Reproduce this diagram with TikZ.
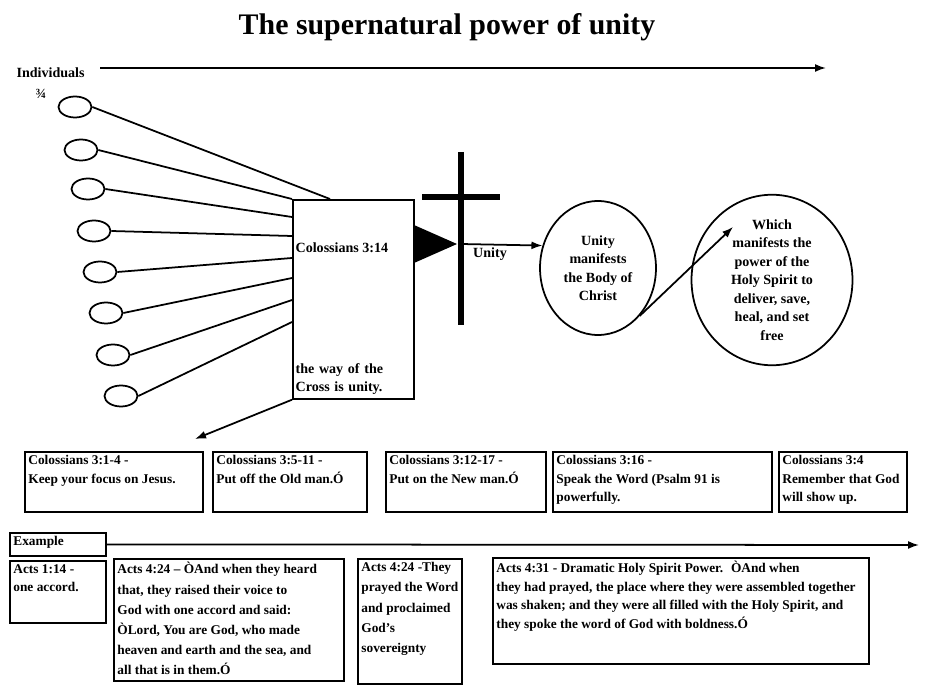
\documentclass[tikz,border=0pt]{standalone}
\usepackage{fontspec}
\setmainfont{Liberation Serif}
\usetikzlibrary{shapes.geometric,arrows.meta}
\newcommand{\versebox}[3]{\parbox[t][#2][t]{#1}{\raggedright #3}}
\begin{document}
\begin{tikzpicture}[x=0.02cm, y=-0.02cm, line width=1pt, >={Latex[length=2.2mm,width=1.6mm]},
        person/.style = {draw, ellipse, minimum width=0.66cm, minimum height=0.42cm, inner sep=0pt},
        verse/.style = {draw, anchor=north west, inner sep=2pt, font=\fontsize{7.6}{10.5}\selectfont\bfseries},
        bubble/.style = {draw, ellipse, align=center, inner sep=0pt, font=\fontsize{8}{10.5}\selectfont\bfseries},
        word/.style = {inner sep=1pt, font=\fontsize{8}{10.5}\selectfont\bfseries}]
    \useasboundingbox (0,0) rectangle (943,692);
    \node[font=\fontsize{17}{20}\selectfont\bfseries] (title) at (447,27) {The supernatural power of unity};
    % individuals
    \node[word, anchor=west] (indiv) at (14,73) {Individuals};
    \node[word] (mark) at (41,94) {¾};
    \coordinate (indstart) at (100,68);
    \coordinate (indend) at (826,68);
    \draw[->] (indstart) -- (indend);
    \node[person] (e1) at (75,107) {};
    \node[person] (e2) at (81,150) {};
    \node[person] (e3) at (88,189) {};
    \node[person] (e4) at (94,231) {};
    \node[person] (e5) at (100,272) {};
    \node[person] (e6) at (106,313) {};
    \node[person] (e7) at (113,355) {};
    \node[person] (e8) at (121,396) {};
    % the box they join
    \node[draw, anchor=north west, minimum width=2.42cm, minimum height=3.98cm] (cbox) at (292,199) {};
    \node[word, anchor=west] (cbtop) at (293,248) {Colossians 3:14};
    \node[word, anchor=north west, text width=2.3cm, align=left] (cbbot) at (293,361) {the way of the Cross is unity.};
    \coordinate (in1) at (330,199);
    \coordinate (in3) at (292,217);
    \coordinate (in4) at (292,236);
    \coordinate (in5) at (292,258);
    \coordinate (in6) at (292,278);
    \coordinate (in7) at (292,300);
    \coordinate (in8) at (292,322);
    \draw (e1.east) -- (in1);
    \draw (e2.east) -- (cbox.north west);
    \draw (e3.east) -- (in3);
    \draw (e4.east) -- (in4);
    \draw (e5.east) -- (in5);
    \draw (e6.east) -- (in6);
    \draw (e7.east) -- (in7);
    \draw (e8.east) -- (in8);
    % cross
    \fill (414,225) -- (457,244) -- (414,263) -- cycle;
    \draw[line width=3pt] (461,152) -- (461,325);
    \draw[line width=3pt] (422,197) -- (500,197);
    \coordinate (apex) at (461,244);
    \node[bubble, minimum width=2.32cm, minimum height=2.68cm] (unity) at (598,268) {Unity\\manifests\\the Body of\\Christ};
    \node[bubble, minimum width=3.22cm, minimum height=3.34cm] (power) at (772,280) {Which\\manifests the\\power of the\\Holy Spirit to\\deliver, save,\\heal, and set\\free};
    \draw[->] (apex) -- (unity.158);
    \node[word] (unitytag) at (490,254) {Unity};
    \coordinate (spirit) at (733,227);
    \draw[->] (unity.south east) -- (spirit);
    \coordinate (down) at (195,439);
    \draw[->] (cbox.south west) -- (down);
    % colossians row
    \node[verse] (c1) at (24,451) {\versebox{3.42cm}{1.06cm}{Colossians 3:1-4 -\\Keep your focus on Jesus.}};
    \node[verse] (c2) at (212,451) {\versebox{2.94cm}{1.06cm}{Colossians 3:5-11 -\\Put off the Old man.Ó}};
    \node[verse] (c3) at (385,451) {\versebox{3.06cm}{1.06cm}{Colossians 3:12-17 -\\Put on the New man.Ó}};
    \node[verse] (c4) at (552,451) {\versebox{4.24cm}{1.06cm}{Colossians 3:16 -\\Speak the Word (Psalm 91 is\\powerfully.}};
    \node[verse] (c5) at (778,451) {\versebox{2.42cm}{1.06cm}{Colossians 3:4\\Remember that God\\will show up.}};
    % example row
    \node[verse] (example) at (9,532) {\versebox{1.78cm}{0.32cm}{Example}};
    \coordinate (exend) at (919,545);
    \draw[->] (example.east) -- (exend);
    \node[verse] (a1) at (9,560) {\versebox{1.78cm}{1.1cm}{Acts 1:14 -\\one accord.}};
    \node[verse, font=\fontsize{7.6}{11.5}\selectfont\bfseries] (a2) at (113,558) {\versebox{4.46cm}{2.3cm}{Acts 4:24 -- ÒAnd when they heard\\that, they raised their voice to\\God with one accord and said:\\ÒLord, You are God, who made\\heaven and earth and the sea, and\\all that is in them.Ó}};
    \node[verse, font=\fontsize{7.6}{11.5}\selectfont\bfseries] (a3) at (357,558) {\versebox{1.94cm}{2.36cm}{Acts 4:24 -They\\prayed the Word\\and proclaimed\\God's\\sovereignty}};
    \node[verse] (a4) at (492,557) {\versebox{7.38cm}{1.98cm}{Acts 4:31 - Dramatic Holy Spirit Power. \ ÒAnd when\\they had prayed, the place where they were assembled together\\was shaken; and they were all filled with the Holy Spirit, and\\they spoke the word of God with boldness.Ó}};
\end{tikzpicture}
\end{document}
